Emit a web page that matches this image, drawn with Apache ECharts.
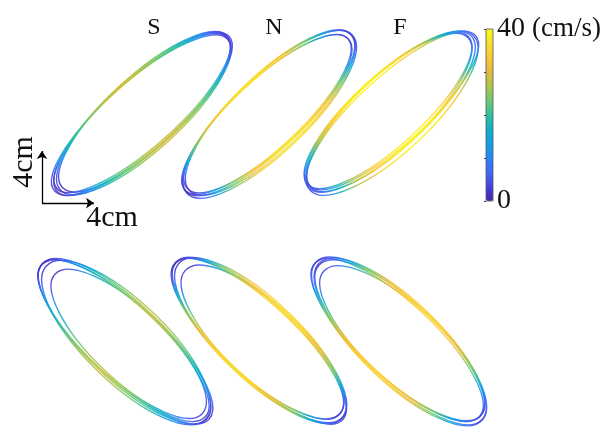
<!DOCTYPE html>
<html>
<head>
<meta charset="utf-8">
<script src="https://cdn.jsdelivr.net/npm/echarts@6/dist/echarts.min.js"></script>
<style>
  html, body { margin: 0; padding: 0; background: #fff; }
  #chart { width: 609px; height: 427px; }
</style>
</head>
<body>
<div id="chart"></div>
<script>
// Hand trajectories in cm: every loop cycle is [centreX, centreY, semiMajor, semiMinor, tiltDeg]
const cyclesTopS = [
  [11.00, 23.25, 8.90, 2.70, 42.0],
  [10.93, 23.30, 8.75, 2.58, 41.5],
  [11.07, 23.25, 8.70, 2.82, 42.3],
  [10.85, 23.15, 8.85, 2.64, 41.2],
  [11.13, 23.40, 8.60, 2.76, 42.5]
];
const cyclesTopN = [
  [20.65, 23.30, 8.75, 2.75, 43.5],
  [20.50, 23.20, 8.55, 2.62, 43.0],
  [20.80, 23.35, 8.65, 2.85, 44.0],
  [20.60, 23.25, 8.45, 2.68, 42.8],
  [20.75, 23.20, 8.80, 2.90, 43.8]
];
const cyclesTopF = [
  [30.00, 23.40, 8.55, 2.80, 42.9],
  [29.85, 23.50, 8.40, 2.65, 42.5],
  [30.15, 23.30, 8.65, 2.95, 43.3],
  [29.95, 23.35, 8.35, 2.72, 43.5],
  [30.20, 23.50, 8.60, 2.60, 42.2]
];
const cyclesBottomS = [
  [9.58, 5.75, 8.70, 2.95, -43.5],
  [9.50, 5.80, 8.60, 2.80, -43.0],
  [9.70, 5.65, 8.50, 3.10, -44.0],
  [9.65, 5.70, 8.75, 2.85, -42.8],
  [9.90, 5.55, 7.80, 2.75, -43.5]
];
const cyclesBottomN = [
  [19.92, 5.85, 8.75, 2.95, -43.1],
  [19.80, 5.95, 8.60, 2.85, -42.6],
  [20.05, 5.80, 8.65, 3.05, -43.6],
  [19.95, 5.75, 8.80, 2.80, -43.3],
  [20.20, 5.70, 8.10, 2.90, -42.8]
];
const cyclesBottomF = [
  [30.69, 5.77, 8.80, 3.00, -43.5],
  [30.55, 5.85, 8.65, 2.85, -43.0],
  [30.80, 5.70, 8.70, 3.10, -44.0],
  [30.75, 5.80, 8.50, 2.95, -43.2],
  [30.95, 5.60, 8.20, 2.90, -42.6]
];

// Speed (cm/s) along each loop, sampled at fractions of the long axis (tip to tip)
const profileAt = [0, 0.04, 0.1, 0.18, 0.28, 0.4, 0.5, 0.6, 0.72, 0.82, 0.9, 0.96, 1];
const speedTopS    = [1, 4, 11, 18, 23, 27, 29, 27, 23, 18, 11, 5, 2];
const speedTopN    = [1, 5, 14, 24, 32, 36, 37, 36, 32, 24, 14, 6, 2];
const speedTopF    = [3, 8, 17, 27, 34, 38, 39, 38, 34, 27, 17, 9, 4];
const speedBottomS = [1, 4, 11, 16, 22, 26, 28, 26, 22, 16, 11, 5, 2];
const speedBottomN = [1, 5, 14, 24, 31, 35, 36, 35, 31, 24, 14, 6, 2];
const speedBottomF = [2, 6, 14, 23, 30, 34, 35, 34, 30, 23, 14, 7, 3];

const conditionLabels = ['S', 'N', 'F'];
const speedRange = [0, 40];
const speedUnit = '(cm/s)';
const scaleBarCm = 4;
const scaleOrigin = [3.23, 16.38];

// parula colour map, evenly spaced stops
const parula = ['#3e26a8', '#4741e0', '#4167f9', '#2786f4', '#139ee6', '#0bb2c4', '#32c19e',
                '#6fc972', '#aec44c', '#e0bc3a', '#fbc535', '#f5df28', '#f9fb15'];

const panels = [
  { cycles: cyclesTopS, speed: speedTopS },
  { cycles: cyclesTopN, speed: speedTopN },
  { cycles: cyclesTopF, speed: speedTopF },
  { cycles: cyclesBottomS, speed: speedBottomS },
  { cycles: cyclesBottomN, speed: speedBottomN },
  { cycles: cyclesBottomF, speed: speedBottomF }
];

function speedColor(v) {
  const t = (v - speedRange[0]) / (speedRange[1] - speedRange[0]);
  return echarts.color.lerp(Math.max(0, Math.min(1, t)), parula);
}

const gradients = panels.map(p => p.speed.map((v, i) => ({ offset: profileAt[i], color: speedColor(v) })));

const loopData = [];
panels.forEach((p, pi) => p.cycles.forEach(c => loopData.push(c.concat([pi]))));

const chart = echarts.init(document.getElementById('chart'), null, { renderer: 'canvas' });
const serif = '"Liberation Serif", "DejaVu Serif", serif';

chart.setOption({
  animation: false,
  backgroundColor: '#fff',
  grid: [
    { left: 0, top: 0, width: 598, height: 416, show: false },
    { left: 486, top: 29, width: 7, height: 172, show: true, borderColor: '#555', borderWidth: 0.8, z: 5 }
  ],
  xAxis: [
    { gridIndex: 0, type: 'value', min: 0, max: 46, show: false },
    { gridIndex: 1, type: 'value', min: 0, max: 1, show: false }
  ],
  yAxis: [
    { gridIndex: 0, type: 'value', min: 0, max: 32, show: false },
    {
      gridIndex: 1, type: 'value', position: 'right',
      min: speedRange[0], max: speedRange[1], interval: 10,
      splitLine: { show: false },
      axisLine: { show: false },
      axisTick: { show: true, inside: true, length: 2, lineStyle: { color: '#444', width: 1 } },
      axisLabel: {
        margin: 4,
        fontFamily: serif,
        fontSize: 28,
        color: '#111',
        formatter: v => v === speedRange[1] ? '{a|' + v + '} {b|' + speedUnit + '}' : (v === speedRange[0] ? '{a|' + v + '}' : ''),
        rich: {
          a: { fontSize: 28, fontFamily: serif, color: '#111' },
          b: { fontSize: 27, fontFamily: serif, color: '#111' }
        }
      }
    }
  ],
  visualMap: {
    type: 'continuous',
    min: speedRange[0], max: speedRange[1],
    seriesIndex: 2,
    calculable: false,
    hoverLink: false,
    left: 486, top: 29, padding: 0,
    itemWidth: 7, itemHeight: 172,
    text: null,
    inRange: { color: parula },
    z: 4
  },
  graphic: [
    { type: 'text', x: 154, y: 28, style: { text: conditionLabels[0], font: '24px ' + serif, fill: '#111', align: 'center', verticalAlign: 'middle' } },
    { type: 'text', x: 274, y: 28, style: { text: conditionLabels[1], font: '24px ' + serif, fill: '#111', align: 'center', verticalAlign: 'middle' } },
    { type: 'text', x: 400, y: 28, style: { text: conditionLabels[2], font: '24px ' + serif, fill: '#111', align: 'center', verticalAlign: 'middle' } },
    { type: 'text', x: 112, y: 218, style: { text: scaleBarCm + 'cm', font: '30px ' + serif, fill: '#111', align: 'center', verticalAlign: 'middle' } },
    { type: 'text', x: 24, y: 162, rotation: Math.PI / 2, style: { text: scaleBarCm + 'cm', font: '30px ' + serif, fill: '#111', align: 'center', verticalAlign: 'middle' } }
  ],
  series: [
    {
      type: 'custom',
      xAxisIndex: 0, yAxisIndex: 0,
      data: loopData,
      silent: true,
      renderItem: function (params, api) {
        const centre = api.coord([api.value(0), api.value(1)]);
        const unit = api.size([1, 1])[0];
        const pi = api.value(5);
        return {
          type: 'ellipse',
          x: centre[0], y: centre[1],
          rotation: api.value(4) * Math.PI / 180,
          shape: { cx: 0, cy: 0, rx: api.value(2) * unit, ry: api.value(3) * unit },
          style: {
            fill: 'none',
            stroke: new echarts.graphic.LinearGradient(0, 0, 1, 0, gradients[pi]),
            lineWidth: 1.4,
            opacity: 0.9
          }
        };
      }
    },
    {
      type: 'lines',
      coordinateSystem: 'cartesian2d',
      xAxisIndex: 0, yAxisIndex: 0,
      silent: true,
      symbol: ['none', 'arrow'],
      symbolSize: 8,
      lineStyle: { color: '#000', width: 1.3, opacity: 1 },
      data: [
        { coords: [scaleOrigin, [scaleOrigin[0], scaleOrigin[1] + scaleBarCm]] },
        { coords: [scaleOrigin, [scaleOrigin[0] + scaleBarCm, scaleOrigin[1]]] }
      ]
    },
    {
      type: 'scatter',
      xAxisIndex: 1, yAxisIndex: 1,
      data: [],
      silent: true
    }
  ]
});
</script>
</body>
</html>
